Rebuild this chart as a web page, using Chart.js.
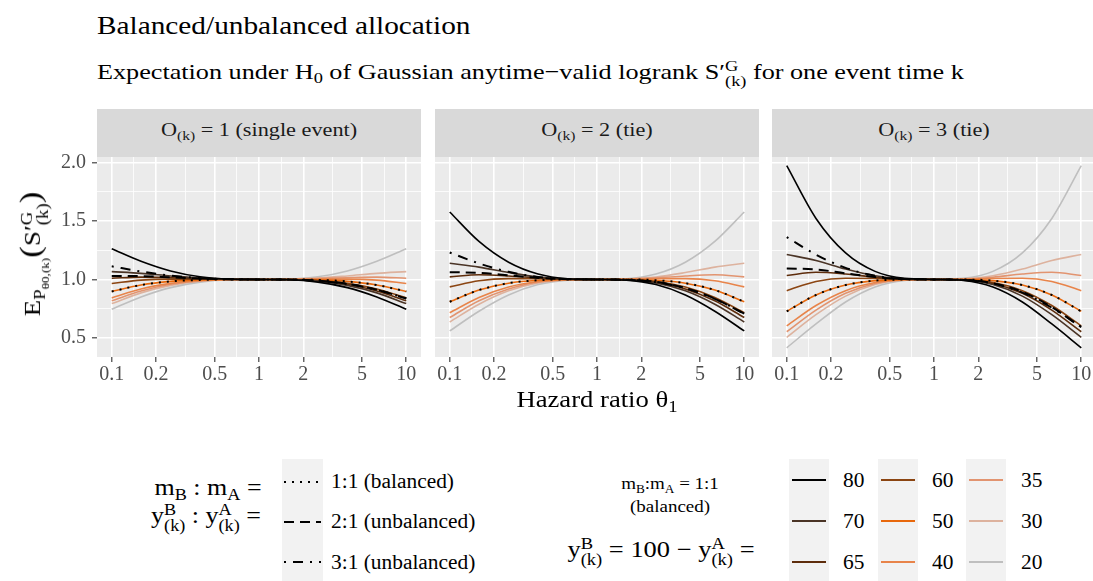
<!DOCTYPE html>
<html>
<head>
<meta charset="utf-8">
<script src="https://cdn.jsdelivr.net/npm/chart.js@4.4.1/dist/chart.umd.min.js"></script>
<style>
  html, body { margin: 0; padding: 0; overflow: hidden; background: #fff; }
  body { width: 1093px; height: 581px; position: relative; font-family: "Liberation Serif", "Times New Roman", serif; color: #000; }
  .t { position: absolute; white-space: nowrap; line-height: 1; transform-origin: left center; }
  .sb { font-size: 0.7em; position: relative; top: 0.32em; }
  .stk { display: inline-block; font-size: 0.7em; line-height: 1; vertical-align: -0.5em; text-align: left; }
  .strip { position: absolute; top: 109px; height: 48px; background: #d9d9d9; }
  .strip .t { left: 0; right: 0; text-align: center; top: 10.5px; font-size: 19px; color: #1a1a1a; transform-origin: center center; transform: scaleX(1.17); }
  .panel { position: absolute; }
  .key { position: absolute; top: 459px; height: 122px; background: #f2f2f2; }
  .c { transform-origin: center center; }
  .lab { font-size: 20px; transform: scaleX(1.07); }
</style>
</head>
<body>

<div class="t" style="left:97px;top:13px;font-size:26px;transform:scaleX(1.127);">Balanced/unbalanced allocation</div>
<div class="t" style="left:97px;top:57.5px;font-size:22px;transform:scaleX(1.19);">Expectation under H<span class="sb">0</span> of Gaussian anytime&minus;valid logrank S&prime;<span class="stk">G<br>(k)</span> for one event time k</div>

<div class="strip" style="left:97px;width:324px;"><div class="t">O<span class="sb">(k)</span> = 1 (single event)</div></div>
<div class="strip" style="left:435px;width:324px;"><div class="t">O<span class="sb">(k)</span> = 2 (tie)</div></div>
<div class="strip" style="left:772px;width:324px;"><div class="t">O<span class="sb">(k)</span> = 3 (tie)</div></div>

<div class="panel" style="left:0px;top:137px;"><canvas id="p1" width="441" height="260"></canvas></div>
<div class="panel" style="left:415px;top:137px;"><canvas id="p2" width="364" height="260"></canvas></div>
<div class="panel" style="left:752px;top:137px;"><canvas id="p3" width="364" height="260"></canvas></div>

<div class="t c" style="left:596.5px;top:388.7px;font-size:22.7px;transform:translateX(-50%) scaleX(1.175);">Hazard ratio &theta;<span class="sb">1</span></div>
<div class="t c" style="left:33px;top:254px;font-size:23px;transform:translate(-50%,-50%) rotate(-90deg) scaleX(1.17);">E<span class="sb">P<span class="sb">&theta;0,(k)</span></span><span style="font-size:1.3em">(</span>S&prime;<span class="stk">G<br>(k)</span><span style="font-size:1.3em">)</span></div>

<!-- legend: allocation ratio -->
<div class="t c" style="left:208px;top:476px;font-size:23px;transform:translateX(-50%) scaleX(1.13);">m<span class="sb">B</span> : m<span class="sb">A</span> =</div>
<div class="t c" style="left:206px;top:502px;font-size:23px;transform:translateX(-50%) scaleX(1.13);">y<span class="stk">B<br>(k)</span> : y<span class="stk">A<br>(k)</span> =</div>
<div class="key" style="left:282px;width:41px;">
  <svg width="41" height="122" style="position:absolute;left:0;top:0">
    <line x1="2" y1="23" x2="39" y2="23" stroke="#000" stroke-width="2" stroke-dasharray="2 6"/>
    <line x1="2" y1="63" x2="39" y2="63" stroke="#000" stroke-width="2.2" stroke-dasharray="10 6"/>
    <line x1="2" y1="103" x2="39" y2="103" stroke="#000" stroke-width="2.2" stroke-dasharray="2 7 10 7"/>
  </svg>
</div>
<div class="t lab" style="left:331px;top:471px;">1:1 (balanced)</div>
<div class="t lab" style="left:331px;top:511px;">2:1 (unbalanced)</div>
<div class="t lab" style="left:331px;top:552px;">3:1 (unbalanced)</div>

<!-- legend: events in B -->
<div class="t c" style="left:670px;top:476px;font-size:16.5px;transform:translateX(-50%) scaleX(1.15);">m<span class="sb">B</span>:m<span class="sb">A</span> = 1:1</div>
<div class="t c" style="left:670px;top:499px;font-size:16.5px;transform:translateX(-50%) scaleX(1.15);">(balanced)</div>
<div class="t c" style="left:661px;top:536px;font-size:23px;transform:translateX(-50%) scaleX(1.15);">y<span class="stk">B<br>(k)</span> = 100 &minus; y<span class="stk">A<br>(k)</span> =</div>
<div class="key" style="left:789px;width:40px;"><svg id="k1" width="40" height="122"></svg></div>
<div class="key" style="left:878px;width:40px;"><svg id="k2" width="40" height="122"></svg></div>
<div class="key" style="left:966px;width:40px;"><svg id="k3" width="40" height="122"></svg></div>
<div id="levelLabels"></div>

<script>
// hazard ratio grid of the curves (log-spaced)
const theta = [0.1, 0.158, 0.251, 0.398, 0.631, 1, 1.585, 2.512, 3.981, 6.31, 10];

// y_B levels (balanced design), in legend order
const yLevels = ['80', '70', '65', '60', '50', '40', '35', '30', '20'];
const levelColors = ['#000000', '#4a3426', '#5e2d0c', '#8b4512', '#e8680c', '#e8844a', '#e29470', '#ddb29e', '#bfbfbf'];

// O(k) = 1, one row per y level
const balancedO1 = [
  [1.263, 1.156, 1.073, 1.023, 1.003, 1, 0.997, 0.977, 0.930, 0.850, 0.744],
  [1.067, 1.052, 1.030, 1.011, 1.002, 1, 0.998, 0.985, 0.949, 0.885, 0.793],
  [1.010, 1.020, 1.015, 1.007, 1.001, 1, 0.999, 0.988, 0.958, 0.901, 0.817],
  [0.965, 0.994, 1.003, 1.003, 1.001, 1, 0.999, 0.991, 0.966, 0.918, 0.842],
  [0.897, 0.952, 0.983, 0.996, 1.000, 1, 1.000, 0.996, 0.983, 0.952, 0.897],
  [0.842, 0.918, 0.966, 0.991, 0.999, 1, 1.001, 1.003, 1.003, 0.994, 0.965],
  [0.817, 0.901, 0.958, 0.988, 0.999, 1, 1.001, 1.007, 1.015, 1.020, 1.010],
  [0.793, 0.885, 0.949, 0.985, 0.998, 1, 1.002, 1.011, 1.030, 1.052, 1.067],
  [0.744, 0.850, 0.930, 0.977, 0.997, 1, 1.003, 1.023, 1.073, 1.156, 1.263]
];
// O(k) = 2
const balancedO2 = [
  [1.577, 1.325, 1.147, 1.046, 1.006, 1, 0.994, 0.956, 0.867, 0.728, 0.559],
  [1.138, 1.105, 1.059, 1.021, 1.003, 1, 0.996, 0.970, 0.903, 0.788, 0.636],
  [1.022, 1.040, 1.030, 1.013, 1.002, 1, 0.997, 0.976, 0.919, 0.817, 0.674],
  [0.936, 0.989, 1.007, 1.006, 1.001, 1, 0.998, 0.982, 0.935, 0.846, 0.715],
  [0.809, 0.909, 0.968, 0.993, 1.000, 1, 1.000, 0.993, 0.968, 0.909, 0.809],
  [0.715, 0.846, 0.935, 0.982, 0.998, 1, 1.001, 1.006, 1.007, 0.989, 0.936],
  [0.674, 0.817, 0.919, 0.976, 0.997, 1, 1.002, 1.013, 1.030, 1.040, 1.022],
  [0.636, 0.788, 0.903, 0.970, 0.996, 1, 1.003, 1.021, 1.059, 1.105, 1.138],
  [0.559, 0.728, 0.867, 0.956, 0.994, 1, 1.006, 1.046, 1.147, 1.325, 1.577]
];
// O(k) = 3
const balancedO3 = [
  [1.974, 1.522, 1.227, 1.069, 1.009, 1, 0.991, 0.935, 0.807, 0.619, 0.415],
  [1.214, 1.162, 1.089, 1.032, 1.005, 1, 0.995, 0.956, 0.857, 0.698, 0.504],
  [1.034, 1.061, 1.046, 1.019, 1.003, 1, 0.996, 0.965, 0.881, 0.737, 0.552],
  [0.904, 0.983, 1.010, 1.008, 1.002, 1, 0.997, 0.973, 0.904, 0.777, 0.603],
  [0.727, 0.867, 0.952, 0.990, 0.999, 1, 0.999, 0.990, 0.952, 0.867, 0.727],
  [0.603, 0.777, 0.904, 0.973, 0.997, 1, 1.002, 1.008, 1.010, 0.983, 0.904],
  [0.552, 0.737, 0.881, 0.965, 0.996, 1, 1.003, 1.019, 1.046, 1.061, 1.034],
  [0.504, 0.698, 0.857, 0.956, 0.995, 1, 1.005, 1.032, 1.089, 1.162, 1.214],
  [0.415, 0.619, 0.807, 0.935, 0.991, 1, 1.009, 1.069, 1.227, 1.522, 1.974]
];

// unbalanced allocation, one row per panel (O = 1, 2, 3)
const unbalanced21 = [
  [1.030, 1.028, 1.018, 1.007, 1.001, 1, 0.999, 0.989, 0.962, 0.912, 0.837],
  [1.062, 1.056, 1.035, 1.013, 1.002, 1, 0.997, 0.979, 0.927, 0.835, 0.706],
  [1.094, 1.086, 1.052, 1.020, 1.003, 1, 0.996, 0.968, 0.893, 0.763, 0.591]
];
const unbalanced31 = [
  [1.112, 1.068, 1.033, 1.011, 1.002, 1, 0.999, 0.988, 0.960, 0.911, 0.838],
  [1.230, 1.137, 1.065, 1.021, 1.003, 1, 0.997, 0.976, 0.924, 0.833, 0.708],
  [1.363, 1.212, 1.099, 1.032, 1.004, 1, 0.996, 0.965, 0.887, 0.758, 0.594]
];

// axis breaks
const xBreaks = [0.1, 0.2, 0.5, 1, 2, 5, 10];
const xLabels = ['0.1', '0.2', '0.5', '1', '2', '5', '10'];
const xMinor = [0.1414, 0.3162, 0.7071, 1.414, 3.162, 7.071];
const yBreaks = [0.5, 1, 1.5, 2];
const yLabels = ['0.5', '1.0', '1.5', '2.0'];
const yMinor = [0.75, 1.25, 1.75];

const panelBg = {
  id: 'panelBg',
  beforeDraw(chart) {
    const { ctx, chartArea: a } = chart;
    ctx.save();
    ctx.fillStyle = '#ebebeb';
    ctx.fillRect(a.left, a.top, a.width, a.height);
    ctx.restore();
  }
};

const tickFont = { family: '"Liberation Serif", serif', size: 20 };

function pts(row) {
  return theta.map((t, j) => ({ x: t, y: row[j] }));
}

function makePanel(id, rows, panelIdx, showY) {
  const datasets = [];
  yLevels.forEach((lvl, i) => {
    datasets.push({
      label: lvl,
      data: pts(rows[i]),
      borderColor: levelColors[i],
      borderWidth: 1.6,
      order: 3 + i
    });
  });
  // 1:1 balanced shown dotted on top of the 50 curve
  datasets.push({ label: '1:1', data: pts(rows[4]), borderColor: '#000', borderWidth: 2, borderDash: [2, 6], order: 2 });
  datasets.push({ label: '2:1', data: pts(unbalanced21[panelIdx]), borderColor: '#000', borderWidth: 2, borderDash: [10, 6], order: 1 });
  datasets.push({ label: '3:1', data: pts(unbalanced31[panelIdx]), borderColor: '#000', borderWidth: 2, borderDash: [2, 7, 10, 7], order: 0 });

  new Chart(document.getElementById(id), {
    type: 'line',
    data: { datasets },
    options: {
      responsive: false,
      animation: false,
      events: [],
      layout: { padding: { left: showY ? 0 : 20, right: 20, top: 20, bottom: 0 } },
      elements: {
        point: { radius: 0 },
        line: { cubicInterpolationMode: 'monotone', fill: false, borderCapStyle: 'butt' }
      },
      plugins: { legend: { display: false }, tooltip: { enabled: false } },
      scales: {
        x: {
          type: 'logarithmic',
          min: Math.pow(10, -1.1),
          max: Math.pow(10, 1.1),
          bounds: 'data',
          afterBuildTicks: s => {
            s.ticks = xBreaks.concat(xMinor).sort((a, b) => a - b).map(v => ({ value: v }));
          },
          afterFit: s => { s.height = 40; },
          border: { display: false },
          grid: {
            color: '#ffffff',
            lineWidth: c => (c.tick && xBreaks.includes(c.tick.value)) ? 1.6 : 0.8,
            tickLength: 5,
            tickWidth: 1.1,
            tickColor: c => (c.tick && xBreaks.includes(c.tick.value)) ? '#333333' : 'rgba(0,0,0,0)'
          },
          ticks: {
            autoSkip: false,
            maxRotation: 0,
            padding: 1,
            color: '#4d4d4d',
            font: tickFont,
            callback: v => {
              const i = xBreaks.indexOf(v);
              return i >= 0 ? xLabels[i] : '';
            }
          }
        },
        y: {
          min: 0.336,
          max: 2.048,
          bounds: 'data',
          afterBuildTicks: s => {
            s.ticks = yBreaks.concat(yMinor).sort((a, b) => a - b).map(v => ({ value: v }));
          },
          afterFit: s => { s.width = showY ? 97 : 0; },
          border: { display: false },
          grid: {
            color: '#ffffff',
            lineWidth: c => (c.tick && yBreaks.includes(c.tick.value)) ? 1.6 : 0.8,
            drawTicks: showY,
            tickLength: 5,
            tickWidth: 1.1,
            tickColor: c => (c.tick && yBreaks.includes(c.tick.value)) ? '#333333' : 'rgba(0,0,0,0)'
          },
          ticks: {
            display: showY,
            padding: 6,
            color: '#4d4d4d',
            font: tickFont,
            callback: v => {
              const i = yBreaks.indexOf(v);
              return i >= 0 ? yLabels[i] : '';
            }
          }
        }
      }
    },
    plugins: [panelBg]
  });
}

makePanel('p1', balancedO1, 0, true);
makePanel('p2', balancedO2, 1, false);
makePanel('p3', balancedO3, 2, false);

// legend keys for y levels: three columns of three
const rowsY = [21, 62, 103];
const labelTops = [470, 511, 552];
const colLeft = [843, 932, 1021];
const keyIds = ['k1', 'k2', 'k3'];
let labelHtml = '';
yLevels.forEach((lvl, i) => {
  const col = Math.floor(i / 3), row = i % 3;
  const svg = document.getElementById(keyIds[col]);
  const ln = document.createElementNS('http://www.w3.org/2000/svg', 'line');
  ln.setAttribute('x1', 3); ln.setAttribute('x2', 37);
  ln.setAttribute('y1', rowsY[row]); ln.setAttribute('y2', rowsY[row]);
  ln.setAttribute('stroke', levelColors[i]); ln.setAttribute('stroke-width', 2.2);
  svg.appendChild(ln);
  labelHtml += '<div class="t lab" style="left:' + colLeft[col] + 'px;top:' + labelTops[row] + 'px;">' + lvl + '</div>';
});
document.getElementById('levelLabels').innerHTML = labelHtml;
</script>
</body>
</html>
